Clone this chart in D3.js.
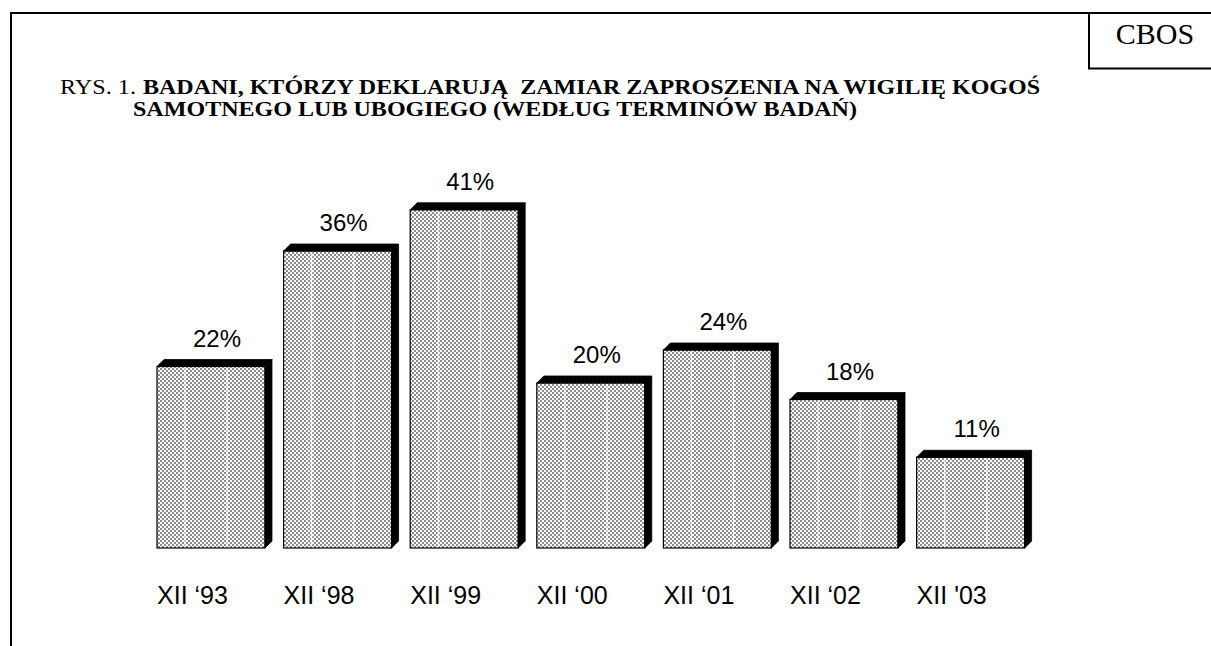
<!DOCTYPE html>
<html>
<head>
<meta charset="utf-8">
<script src="https://cdn.jsdelivr.net/npm/d3@7"></script>
<style>
  html, body { margin: 0; padding: 0; background: #fff; }
  svg { display: block; }
</style>
</head>
<body>
<svg id="chart" width="1211" height="646"></svg>
<script>
// ---- data ----
const categories = ["XII \u201893", "XII \u201898", "XII \u201899", "XII \u201800", "XII \u201801", "XII \u201802", "XII '03"];
const values = [22, 36, 41, 20, 24, 18, 11];
const valueLabels = ["22%", "36%", "41%", "20%", "24%", "18%", "11%"];
const titlePrefix = "RYS. 1.";
const titleLine1 = "BADANI, KTÓRZY DEKLARUJĄ\u00A0 ZAMIAR ZAPROSZENIA NA WIGILIĘ KOGOŚ";
const titleLine2 = "SAMOTNEGO LUB UBOGIEGO (WEDŁUG TERMINÓW BADAŃ)";
const sourceLabel = "CBOS";

// ---- layout ----
const W = 1211, H = 646;
const svg = d3.select("#chart");
const baseY = 548;
const depth = 7;
const serif = "'Liberation Serif', 'Times New Roman', serif";
const sans = "'Liberation Sans', Arial, sans-serif";

const x = d3.scaleBand()
  .domain(categories)
  .range([157, 1024.6])
  .paddingInner(0.147)
  .paddingOuter(0);

const y = d3.scaleLinear().domain([0, 50]).range([baseY, baseY - 50 * 8.25]);

// pattern
const defs = svg.append("defs");
const pat = defs.append("pattern")
  .attr("id", "chk").attr("patternUnits", "userSpaceOnUse")
  .attr("width", 4).attr("height", 4);
pat.append("rect").attr("width", 4).attr("height", 4).attr("fill", "#ffffff");
pat.append("rect").attr("x", 0).attr("y", 0).attr("width", 2).attr("height", 2).attr("fill", "#8c8c8c");
pat.append("rect").attr("x", 2).attr("y", 2).attr("width", 2).attr("height", 2).attr("fill", "#8c8c8c");

// frame
svg.append("line").attr("x1", 11).attr("x2", W).attr("y1", 13).attr("y2", 13)
  .attr("stroke", "#000").attr("stroke-width", 2);
svg.append("line").attr("x1", 11).attr("x2", 11).attr("y1", 12).attr("y2", H)
  .attr("stroke", "#000").attr("stroke-width", 2);
// CBOS box
svg.append("path").attr("d", "M1089,13 V68.5 H1211")
  .attr("fill", "none").attr("stroke", "#000").attr("stroke-width", 2);
svg.append("text").attr("x", 1155).attr("y", 44)
  .attr("text-anchor", "middle")
  .attr("font-family", serif)
  .attr("font-size", 30).attr("fill", "#000").text(sourceLabel);

// title
svg.append("text").attr("x", 60).attr("y", 94)
  .attr("font-family", serif)
  .attr("font-size", 20).attr("fill", "#000")
  .attr("textLength", 76).attr("lengthAdjust", "spacingAndGlyphs")
  .text(titlePrefix);
svg.append("text").attr("x", 143).attr("y", 94)
  .attr("font-family", serif)
  .attr("font-size", 20).attr("font-weight", "bold").attr("fill", "#000")
  .attr("textLength", 897).attr("lengthAdjust", "spacingAndGlyphs")
  .text(titleLine1);
svg.append("text").attr("x", 133).attr("y", 116)
  .attr("font-family", serif)
  .attr("font-size", 20).attr("font-weight", "bold").attr("fill", "#000")
  .attr("textLength", 724).attr("lengthAdjust", "spacingAndGlyphs")
  .text(titleLine2);

// bars
const g = svg.append("g");
const bars = g.selectAll("g.bar").data(values).enter().append("g").attr("class", "bar");

bars.each(function(v, i) {
  const sel = d3.select(this);
  const x0 = x(categories[i]);
  const x1 = x0 + x.bandwidth();
  const yt = y(v);
  sel.append("rect").attr("x", x0).attr("y", yt)
    .attr("width", x.bandwidth()).attr("height", baseY - yt)
    .attr("fill", "url(#chk)");
  [0.26, 0.65].forEach(f => {
    sel.append("line").attr("x1", x0 + x.bandwidth() * f).attr("x2", x0 + x.bandwidth() * f)
      .attr("y1", yt + 1).attr("y2", baseY - 1)
      .attr("stroke", "#fff").attr("stroke-width", 1.2).attr("opacity", 0.9);
  });
  sel.append("rect").attr("x", x0).attr("y", yt)
    .attr("width", x.bandwidth()).attr("height", baseY - yt)
    .attr("fill", "none").attr("stroke", "#000").attr("stroke-width", 1.2);
  sel.append("path")
    .attr("d", `M${x0},${yt} L${x0 + depth},${yt - depth} L${x1 + depth},${yt - depth} L${x1},${yt} Z`)
    .attr("fill", "#000").attr("stroke", "#000").attr("stroke-width", 0.8);
  sel.append("path")
    .attr("d", `M${x1},${yt} L${x1 + depth},${yt - depth} L${x1 + depth},${baseY - depth} L${x1},${baseY} Z`)
    .attr("fill", "#000").attr("stroke", "#000").attr("stroke-width", 0.8);
});

// value labels
g.selectAll("text.val").data(values).enter().append("text")
  .attr("class", "val")
  .attr("x", (d, i) => x(categories[i]) + x.bandwidth() / 2 + 6)
  .attr("y", d => y(d) - 20)
  .attr("text-anchor", "middle")
  .attr("font-family", sans)
  .attr("font-size", 24).attr("fill", "#000")
  .text((d, i) => valueLabels[i]);

// category labels
const xAxis = d3.axisBottom(x).tickSize(0).tickPadding(0);
const ax = svg.append("g").attr("transform", `translate(0,604)`).call(xAxis);
ax.select(".domain").remove();
ax.selectAll(".tick text")
  .attr("x", -x.bandwidth() / 2)
  .attr("y", 0).attr("dy", 0)
  .attr("text-anchor", "start")
  .attr("font-family", sans)
  .attr("font-size", 25).attr("fill", "#000");
</script>
</body>
</html>
